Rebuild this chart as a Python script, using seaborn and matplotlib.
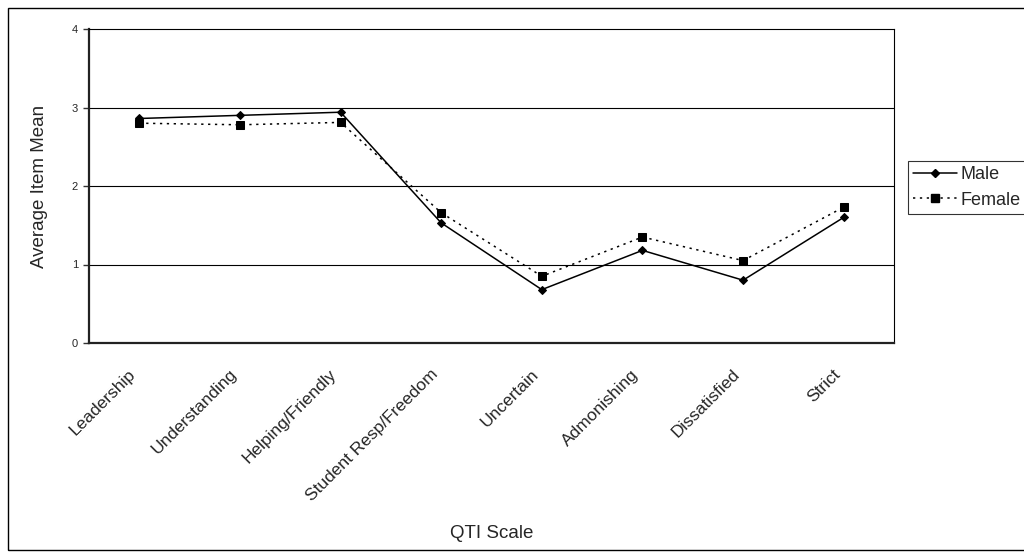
import matplotlib
matplotlib.use("Agg")
import matplotlib.pyplot as plt
import matplotlib.transforms as mtransforms
import seaborn as sns
import pandas as pd
from matplotlib.patches import Rectangle
from matplotlib.lines import Line2D

categories = ["Leadership", "Understanding", "Helping/Friendly", "Student Resp/Freedom",
              "Uncertain", "Admonishing", "Dissatisfied", "Strict"]
male = [2.86, 2.90, 2.94, 1.53, 0.68, 1.18, 0.80, 1.60]
female = [2.80, 2.78, 2.81, 1.66, 0.85, 1.35, 1.05, 1.73]
yticks = [0, 1, 2, 3, 4]

sns.set_style("white")
plt.rcParams['font.family'] = ['Liberation Sans', 'DejaVu Sans']

df = pd.DataFrame({
    "x": list(range(len(categories))) * 2,
    "value": male + female,
    "Gender": ["Male"] * len(male) + ["Female"] * len(female),
})

fig = plt.figure(figsize=(10.24, 5.56), dpi=100)
ax = fig.add_axes([89/1024, 1 - 343/556, (894 - 89)/1024, (343 - 29)/556])

sns.lineplot(data=df, x="x", y="value", hue="Gender", style="Gender",
             palette={"Male": "black", "Female": "black"},
             markers={"Male": "D", "Female": "s"},
             dashes={"Male": "", "Female": (1.5, 3)},
             markersize=5, linewidth=1.1, ax=ax, legend=False)
for line, ms in zip(ax.lines, [4.5, 5.5]):
    line.set_markersize(ms)
    line.set_markeredgecolor("black")

ax.set_xlim(-0.5, len(categories) - 0.5)
ax.set_ylim(0, 4)
ax.set_yticks(yticks)
ax.set_yticklabels([str(t) for t in yticks], fontsize=8)
for t in [1, 2, 3]:
    ax.axhline(t, color="black", lw=0.8, zorder=0)

ax.set_xticks(range(len(categories)))
ax.set_xticklabels([])
base = ax.get_xaxis_transform()
offset = mtransforms.ScaledTranslation(-6/100, -29/100, fig.dpi_scale_trans)
for i, cat in enumerate(categories):
    ax.text(i, 0, cat, transform=base + offset, rotation=45, ha="right", va="center",
            rotation_mode="anchor", fontsize=12.5, clip_on=False)
ax.set_xticks([i - 0.5 for i in range(len(categories) + 1)], minor=True)
ax.tick_params(axis="x", which="major", length=0, pad=0)
ax.tick_params(axis="x", which="minor", length=5, width=1, color="#333333", direction="out")
ax.tick_params(axis="y", which="major", length=4, width=1, color="#333333", direction="out", left=True, pad=4)

for s in ["top", "right"]:
    ax.spines[s].set_linewidth(0.8)
    ax.spines[s].set_color("black")
for s in ["left", "bottom"]:
    ax.spines[s].set_linewidth(1.6)
    ax.spines[s].set_color("#222222")

ax.set_xlabel("QTI Scale", fontsize=13.5)
ax.xaxis.set_label_coords(0.5, -(533 - 343) / 314, transform=ax.transAxes)
ax.xaxis.label.set_va("center")
ax.set_ylabel("Average Item Mean", fontsize=13.5)
ax.yaxis.set_label_coords((40 - 89) / 805, 0.5, transform=ax.transAxes)
ax.yaxis.label.set_va("center")

handles = [Line2D([], [], color="black", lw=1.1, marker="D", markersize=4.5, ls="-"),
           Line2D([], [], color="black", lw=1.1, marker="s", markersize=5.5, ls=(0, (1.5, 3)))]
leg = fig.legend(handles, ["Male", "Female"], loc="upper left",
                 bbox_to_anchor=(908/1024, 1 - 161/556), frameon=True, fancybox=False,
                 edgecolor="black", fontsize=13, handlelength=2.4, handletextpad=0.2,
                 borderpad=0.3, labelspacing=0.45, borderaxespad=0)
leg.get_frame().set_linewidth(0.8)

fig.patches.append(Rectangle((8/1024, 1 - 550/556), (1030 - 8)/1024, (550 - 8)/556,
                             transform=fig.transFigure, fill=False, edgecolor="black", lw=1))

fig.savefig("out.png", dpi=100)
